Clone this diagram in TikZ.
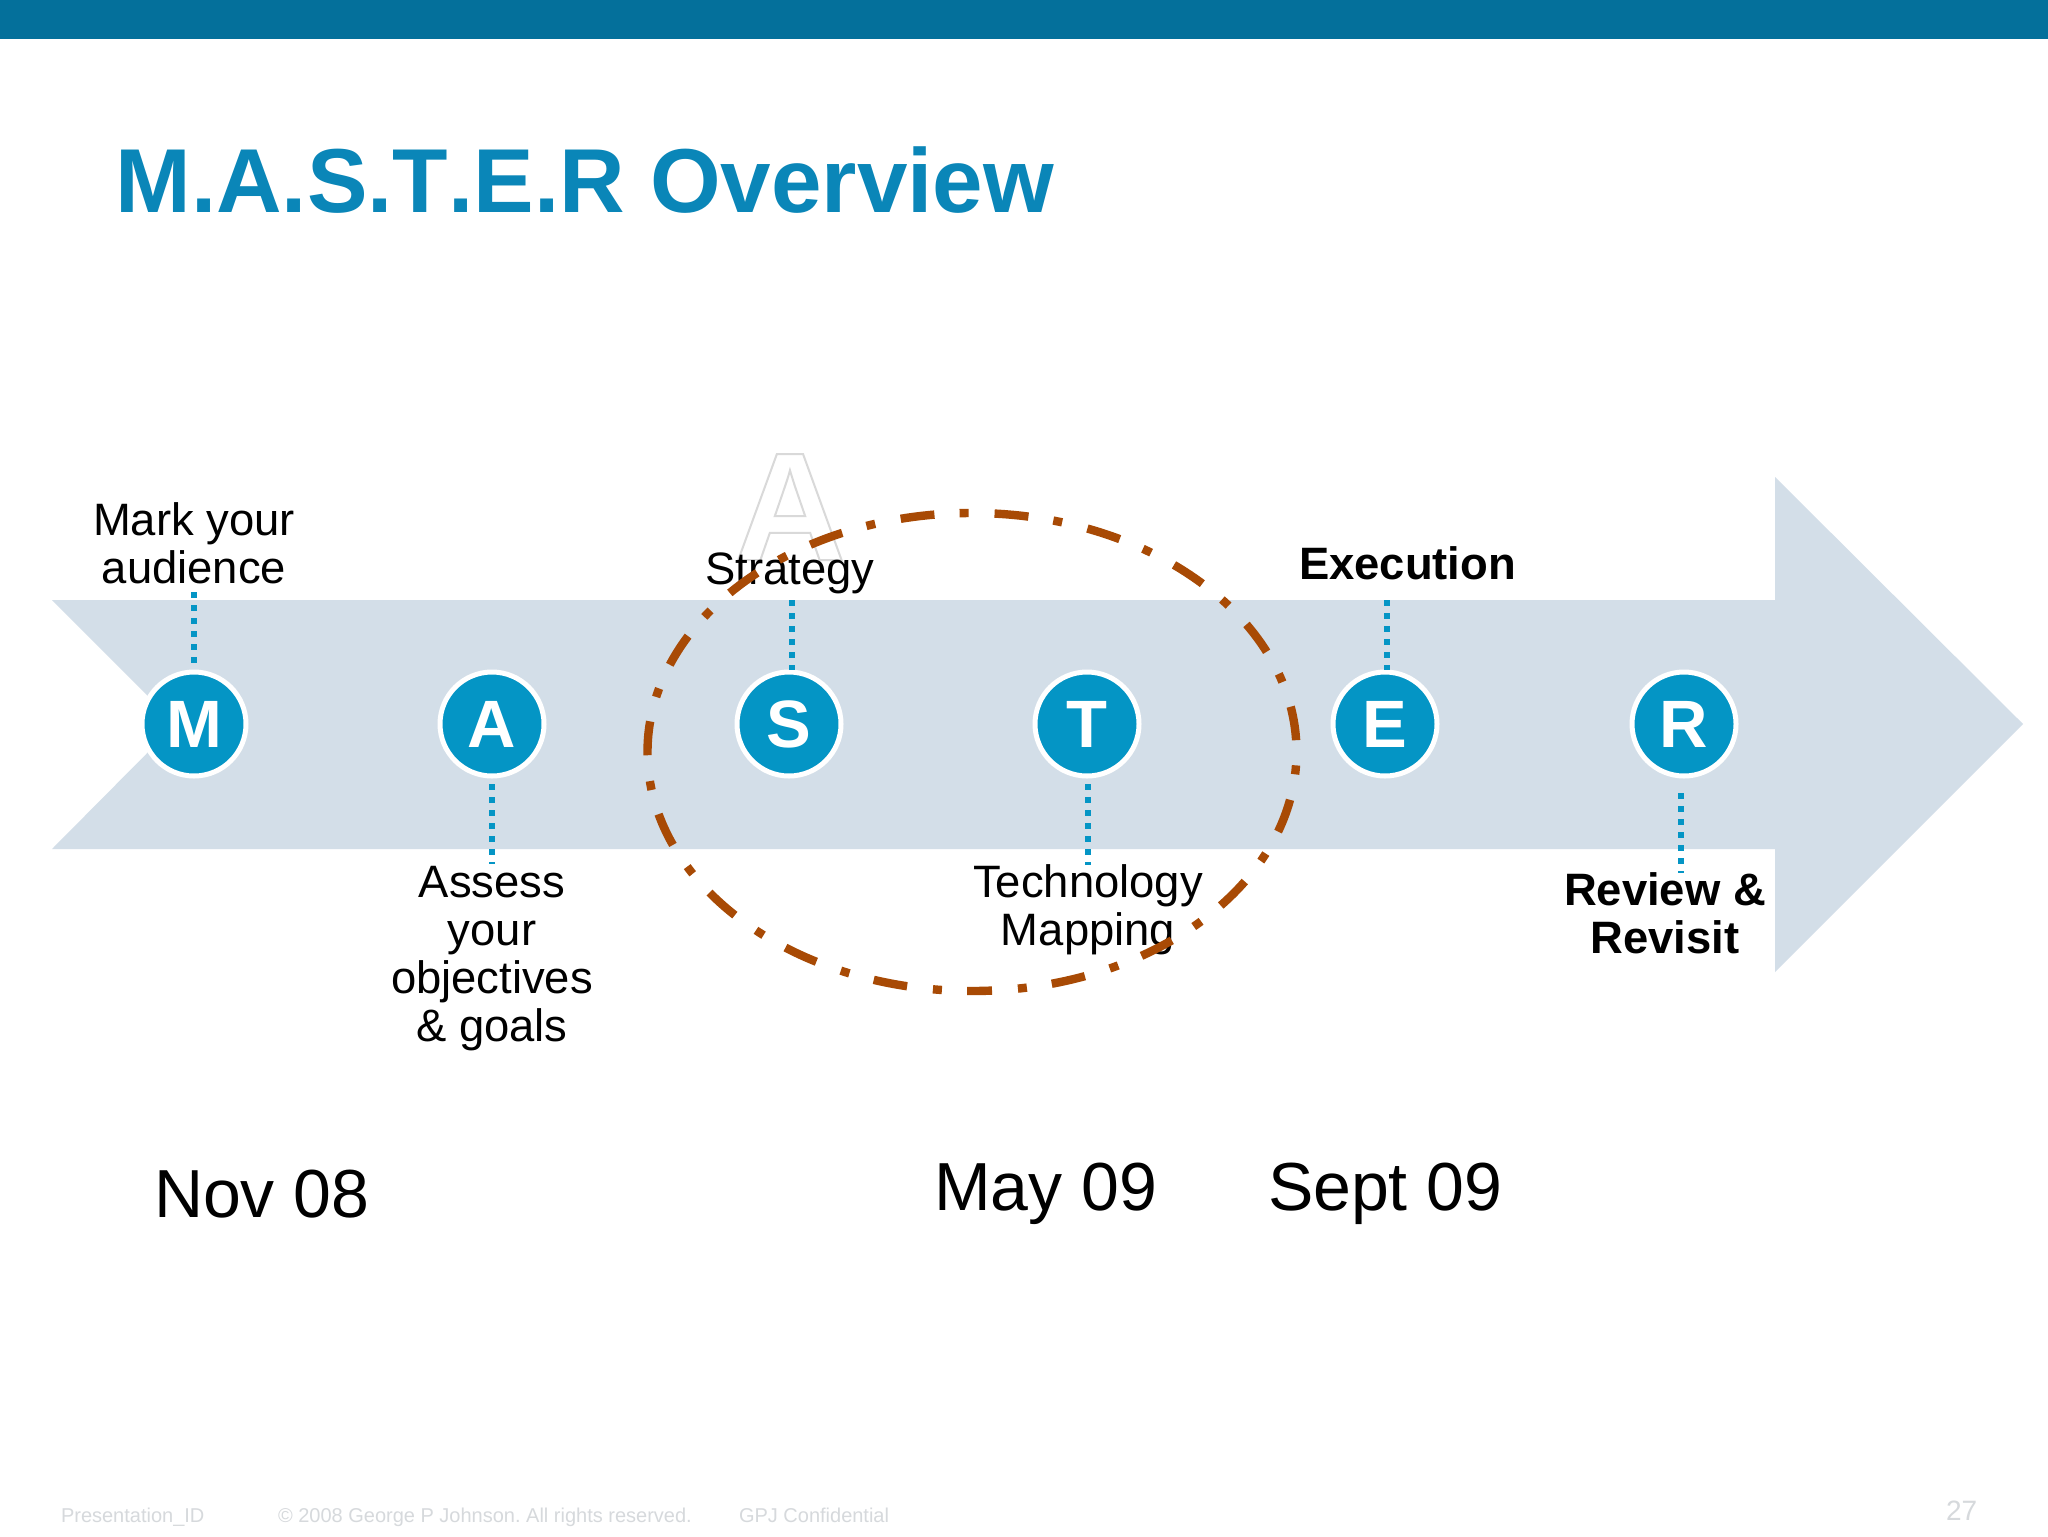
\documentclass[tikz,border=0pt]{standalone}
\usepackage{fontspec}
\setmainfont{Liberation Sans}
\definecolor{barblue}{HTML}{04709B}
\definecolor{titleblue}{HTML}{0A86B8}
\definecolor{bandblue}{HTML}{D3DEE8}
\definecolor{dotblue}{HTML}{0495C5}
\definecolor{rust}{HTML}{A84A05}
\definecolor{footgrey}{HTML}{D6D9DC}
\tikzset{
  lettercircle/.style={circle,fill=dotblue,draw=white,line width=2.5pt,minimum size=52pt,inner sep=0pt,outer sep=0pt,text=white,font=\fontsize{33.5}{36}\selectfont\bfseries},
  stemline/.style={draw=dotblue,line width=3pt,dash pattern=on 3pt off 3.5pt},
  lbl/.style={inner sep=0pt,outer sep=0pt,align=center,text=black,font=\fontsize{22.7}{24}\selectfont},
  lblbold/.style={lbl,font=\fontsize{22.7}{24}\selectfont\bfseries},
  datelbl/.style={inner sep=0pt,outer sep=0pt,anchor=base west,text=black,font=\fontsize{34}{36}\selectfont},
  footlbl/.style={inner sep=0pt,outer sep=0pt,anchor=base west,text=footgrey,font=\fontsize{10}{12}\selectfont},
  ringline/.style={draw=rust,line width=4.2pt,dash pattern=on 17pt off 13pt on 4.5pt off 12.6pt,dash phase=7pt}
}
\frenchspacing
\begin{document}
\begin{tikzpicture}[x=0.5pt,y=-0.5pt]
\useasboundingbox (0,0) rectangle (2048,1536);
\fill[white] (0,0) rectangle (2048,1536);
\fill[barblue] (0,0) rectangle (2048,39);
\node[inner sep=0pt,anchor=base west,text=titleblue,font=\fontsize{45.4}{50}\selectfont\bfseries\addfontfeature{Kerning=Off}] (title) at (115,212) {M.A.S.T.E.R Overview};
\fill[bandblue] (52,600) -- (1775,600) -- (1775,477) -- (2023,724) -- (1775,972) -- (1775,849) -- (52,849) -- (176,724) -- cycle;
\node[inner sep=0pt,anchor=base,font=\fontsize{77}{80}\selectfont\bfseries] (ghost) at (790,560) {\special{pdf:code q 1 Tr 1 w 0.85 0.85 0.85 RG}A\special{pdf:code Q}};
\foreach \n/\l/\x in {M/M/194,A/A/492,S/S/789,T/T/1087,E/E/1385,R/R/1684}{
  \node[lettercircle] (\n) at (\x,724) {\l};
}
\coordinate (cM) at (194,592);
\coordinate (cS) at (792,600);
\coordinate (cE) at (1387,600);
\coordinate (cA) at (492,864);
\coordinate (cT) at (1088,865);
\coordinate (cR) at (1681,873);
\draw[stemline,shorten >=1.25pt] (cM) -- (cM |- M.north);
\draw[stemline,shorten >=1.25pt] (cS) -- (cS |- S.north);
\draw[stemline,shorten >=1.25pt] (cE) -- (cE |- E.north);
\draw[stemline,shorten <=4pt] (cA |- A.south) -- (cA);
\draw[stemline,shorten <=4pt] (cT |- T.south) -- (cT);
\draw[stemline,shorten <=8.5pt] (cR |- R.south) -- (cR);
\node[lbl,anchor=center] (tM) at (194,543) {Mark your\\audience};
\node[lbl,anchor=base] (tS) at (790,584) {Strategy};
\node[lblbold,anchor=base west] (tE) at (1299,579) {Execution};
\node[lbl,anchor=center] (tA) at (492,959) {Assess\\your\\objectives\\\& goals};
\node[lbl,anchor=center] (tT) at (1088,910) {Technology\\Mapping};
\node[lblbold,anchor=center] (tR) at (1665,913) {Review \&\\Revisit};
\node[datelbl] (dN) at (154,1217) {Nov 08};
\node[datelbl] (dM) at (934,1210) {May 09};
\node[datelbl] (dS) at (1268,1210) {Sept 09};
\node[footlbl] (f1) at (61,1522) {Presentation\_ID};
\node[footlbl] (f2) at (278,1522) {© 2008 George P Johnson. All rights reserved.};
\node[footlbl] (f3) at (739,1522) {GPJ Confidential};
\node[footlbl,font=\fontsize{14}{16}\selectfont] (f4) at (1946,1520) {27};
\draw[ringline] (972,991) arc[start angle=-90,delta angle=360,x radius=162.25pt,y radius=119.5pt];
\end{tikzpicture}
\end{document}
